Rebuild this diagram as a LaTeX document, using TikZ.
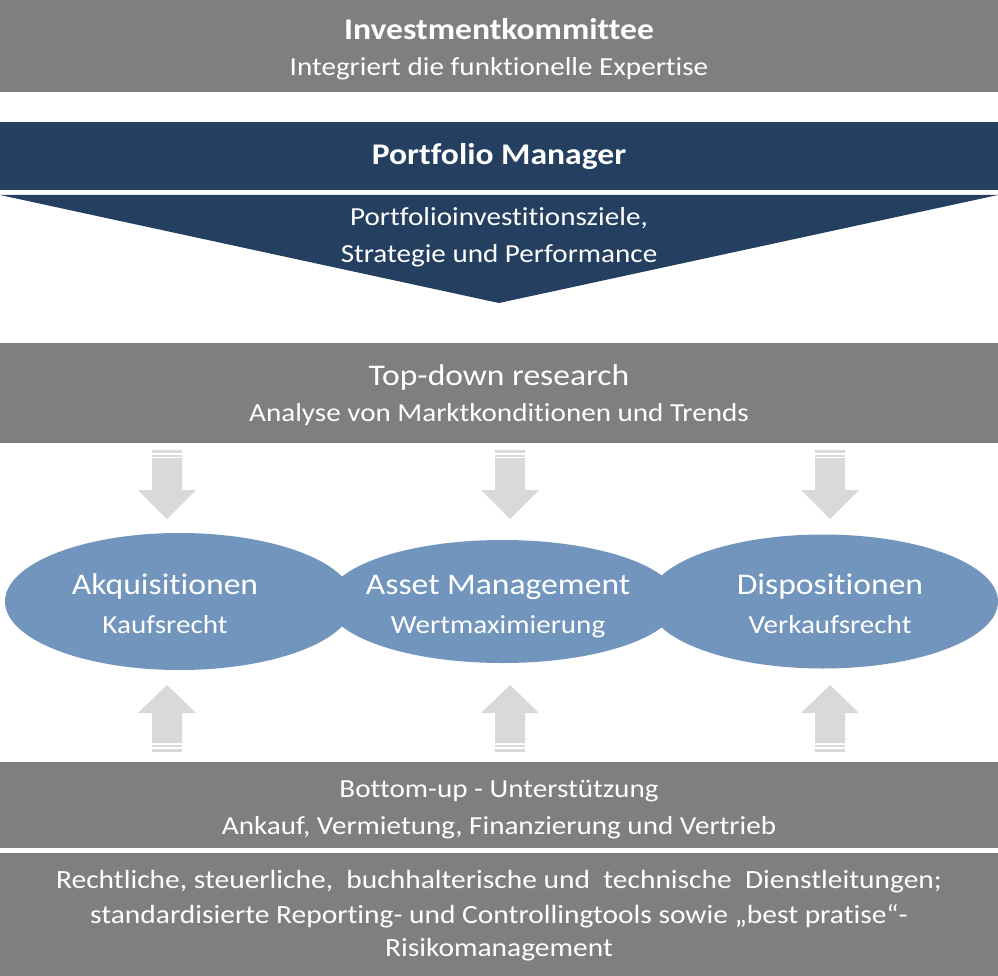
\documentclass[tikz,border=0pt]{standalone}
\usepackage{fontspec}
\setmainfont{Carlito}[Ligatures=CommonOff, FakeStretch=1.12]
\usetikzlibrary{shapes.geometric}
\definecolor{boxgray}{HTML}{7F7F7F}
\definecolor{pmblue}{HTML}{243F60}
\definecolor{ellblue}{HTML}{7295BE}
\definecolor{arrgray}{HTML}{D9D9D9}
\tikzset{
  band/.style={fill=boxgray, draw=none, inner sep=0pt, outer sep=0pt, anchor=north west, minimum width=998pt},
  txt/.style={text=white, inner sep=0pt, align=center, anchor=base},
  big/.style={font=\fontsize{30}{36}\selectfont},
  bigb/.style={font=\fontsize{30}{36}\selectfont\bfseries},
  small/.style={font=\fontsize{26}{31}\selectfont},
  smaller/.style={font=\fontsize{26.3}{31}\selectfont},
  ell/.style={ellipse, fill=ellblue, draw=none, inner sep=0pt},
  blockarrow/.style={fill=arrgray, draw=none}
}
\newcommand{\downblock}[2]{%
  \fill[blockarrow] (#1-15,#2) rectangle (#1+15,#2+2.5);
  \fill[blockarrow] (#1-15,#2+4.5) rectangle (#1+15,#2+6.5);
  \fill[blockarrow] (#1-15,#2+8) -- (#1+15,#2+8) -- (#1+15,#2+40) -- (#1+29,#2+40)
     -- (#1,#2+69) -- (#1-29,#2+40) -- (#1-15,#2+40) -- cycle;}
\newcommand{\upblock}[2]{%
  \fill[blockarrow] (#1,#2) -- (#1+29,#2+28) -- (#1+15,#2+28) -- (#1+15,#2+58)
     -- (#1-15,#2+58) -- (#1-15,#2+28) -- (#1-29,#2+28) -- cycle;
  \fill[blockarrow] (#1-15,#2+60) rectangle (#1+15,#2+62);
  \fill[blockarrow] (#1-15,#2+64) rectangle (#1+15,#2+66.5);}
\begin{document}
\begin{tikzpicture}[x=1pt,y=-1pt]
\useasboundingbox (0,0) rectangle (998,976);
\fill[white] (0,0) rectangle (998,976);

% Investment committee
\node[band, minimum height=92pt] (ic) at (0,0) {};
\node[txt, bigb] (ict) at (499,39.5) {Investmentkommittee};
\node[txt, small] (ics) at (499,76) {Integriert die funktionelle Expertise};

% Portfolio manager
\node[band, fill=pmblue, minimum height=68pt] (pm) at (0,122) {};
\fill[pmblue] (0,195) -- (998,195) -- (499,303) -- cycle;
\coordinate (tri) at (499,303);
\node[txt, bigb] (pmt) at (499,165) {Portfolio Manager};
\node[txt, small] (pms1) at (499,226) {Portfolioinvestitionsziele,};
\node[txt, small] (pms2) at (499,262) {Strategie und Performance};

% Top-down research
\node[band, minimum height=100pt] (td) at (0,343) {};
\node[txt, big] (tdt) at (499,385) {Top-down research};
\node[txt, small] (tds) at (499,421) {Analyse von Marktkonditionen und Trends};

% down arrows
\downblock{167}{450}
\downblock{510}{450}
\downblock{830}{450}

% ellipses
\node[ell, minimum width=349pt, minimum height=137pt] (akq) at (179.5,601.5) {};
\node[ell, minimum width=351pt, minimum height=123pt] (am) at (502.5,601.5) {};
\node[ell, minimum width=350pt, minimum height=134pt] (dis) at (823,601.5) {};
\node[txt, big] (akqt) at (165,594.3) {Akquisitionen};
\node[txt, small] (akqs) at (165,633.3) {Kaufsrecht};
\node[txt, big] (amt) at (498,594.3) {Asset Management};
\node[txt, small] (ams) at (498,633.3) {Wertmaximierung};
\node[txt, big] (dist) at (830,594.3) {Dispositionen};
\node[txt, small] (diss) at (830,633.3) {Verkaufsrecht};

% up arrows
\upblock{167}{685}
\upblock{510}{685}
\upblock{830}{685}

% Bottom-up
\node[band, minimum height=86pt] (bu) at (0,762) {};
\node[txt, small] (but) at (499,797) {Bottom-up - Unterstützung};
\node[txt, small] (bus) at (499,834) {Ankauf, Vermietung, Finanzierung und Vertrieb};

% services
\node[band, minimum height=123pt] (sv) at (0,853) {};
\node[txt, smaller] (sv1) at (499,888.3) {Rechtliche, steuerliche,\ \ buchhalterische und\ \ technische\ \ Dienstleitungen;};
\node[txt, smaller] (sv2) at (499,923.3) {standardisierte Reporting- und Controllingtools sowie „best pratise“-};
\node[txt, smaller] (sv3) at (499,956.7) {Risikomanagement};
\end{tikzpicture}
\end{document}
